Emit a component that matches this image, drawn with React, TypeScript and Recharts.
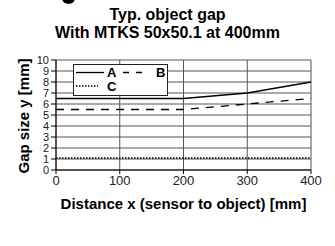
import { LineChart, Line, XAxis, YAxis, CartesianGrid, Legend, Label } from "recharts";

const distances = [0, 100, 200, 300, 400];
const gapA = [6.5, 6.5, 6.5, 7, 8];
const gapB = [5.5, 5.5, 5.5, 6, 6.5];
const gapC = [1.1, 1.1, 1.1, 1.1, 1.1];
const xTicks = [0, 100, 200, 300, 400];
const yTicks = [0, 1, 2, 3, 4, 5, 6, 7, 8, 9, 10];

const data = distances.map((x, i) => ({ x, A: gapA[i], B: gapB[i], C: gapC[i] }));

const font = "'Liberation Sans', Arial, sans-serif";

function LegendBox() {
  return (
    <div
      style={{
        width: 95,
        height: 32,
        border: "1px solid #222",
        background: "#fff",
        boxSizing: "border-box",
        fontFamily: font,
        fontWeight: "bold",
        fontSize: 13,
      }}
    >
      <svg width={95} height={32} style={{ display: "block", marginLeft: -1, marginTop: -1 }}>
        <line x1={3} x2={31} y1={8.5} y2={8.5} stroke="#000" strokeWidth={1.3} />
        <text x={34} y={13}>A</text>
        <line x1={50} x2={70} y1={8.5} y2={8.5} stroke="#000" strokeWidth={1.3} strokeDasharray="6 7" />
        <text x={83} y={13}>B</text>
        <line x1={3} x2={25} y1={22} y2={22} stroke="#000" strokeWidth={1.5} strokeDasharray="1.5 1.5" />
        <text x={34} y={27}>C</text>
      </svg>
    </div>
  );
}

export default function App() {
  return (
    <div style={{ position: "absolute", left: 0, top: 0, width: 335, height: 246, background: "#fff", overflow: "hidden" }}>
      <div
        style={{
          position: "absolute",
          left: 62,
          top: -8,
          width: 13,
          height: 12,
          borderRadius: "50%",
          background: "#000",
        }}
      />
      <div
        style={{
          position: "absolute",
          left: 0,
          top: 6,
          width: 335,
          textAlign: "center",
          fontFamily: font,
          fontWeight: "bold",
          fontSize: 16,
          lineHeight: "18px",
        }}
      >
        Typ. object gap
        <br />
        With MTKS 50x50.1 at 400mm
      </div>
      <div
        style={{
          position: "absolute",
          left: 23,
          top: 116,
          transform: "translate(-50%, -50%) rotate(-90deg)",
          whiteSpace: "nowrap",
          fontFamily: font,
          fontWeight: "bold",
          fontSize: 15,
          lineHeight: "17px",
        }}
      >
        Gap size y [mm]
      </div>
      <LineChart
        width={335}
        height={246}
        data={data}
        margin={{ top: 60, right: 24, bottom: 0, left: 0 }}
        style={{ fontFamily: font }}
      >
        <CartesianGrid stroke="#555" strokeWidth={1} />
        <XAxis
          dataKey="x"
          type="number"
          domain={[0, 400]}
          ticks={xTicks}
          tick={{ fill: "#222", fontSize: 13 }}
          tickSize={4}
          axisLine={{ stroke: "#000" }}
          tickLine={{ stroke: "#000" }}
          height={44}
        >
          <Label
            value="Distance x (sensor to object) [mm]"
            position="insideBottom"
            offset={5}
            style={{ fontWeight: "bold", fontSize: 15, fill: "#000" }}
          />
        </XAxis>
        <YAxis
          type="number"
          domain={[0, 10]}
          ticks={yTicks}
          interval={0}
          tick={{ fill: "#222", fontSize: 11 }}
          tickSize={5}
          axisLine={{ stroke: "#000" }}
          tickLine={{ stroke: "#000" }}
          width={56}
        />
        <Legend
          content={<LegendBox />}
          layout="vertical"
          wrapperStyle={{ left: 73, top: 64, width: 95 }}
        />
        <Line dataKey="A" stroke="#000" strokeWidth={1.3} dot={false} isAnimationActive={false} />
        <Line dataKey="B" stroke="#000" strokeWidth={1.3} strokeDasharray="8 7" dot={false} isAnimationActive={false} />
        <Line dataKey="C" stroke="#000" strokeWidth={1.5} strokeDasharray="1.5 1.5" dot={false} isAnimationActive={false} />
      </LineChart>
    </div>
  );
}
